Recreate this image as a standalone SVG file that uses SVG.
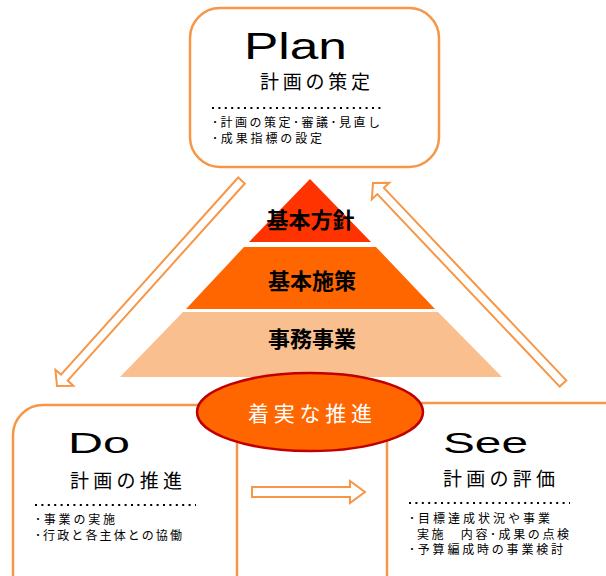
<svg xmlns="http://www.w3.org/2000/svg" width="606" height="576" viewBox="0 0 606 576">
<style>
.box{fill:#fff;stroke:#F79646;stroke-width:2.5}
.arrow{fill:#fff;stroke:#F79646;stroke-width:2;stroke-linejoin:miter}
.big{font-family:"Liberation Sans",Arial,sans-serif;fill:#000}
.jp{font-family:"Noto Sans CJK JP","Noto Sans",sans-serif;fill:#000;dominant-baseline:central}
.ttl{font-size:19px}
.sm{font-size:12px}
.pyr{font-size:22px;font-weight:bold;text-anchor:middle}
.dots{stroke:#000;stroke-width:2;stroke-dasharray:2 4.4;fill:none}
</style>
<g id="plan">
<rect class="box" x="190" y="8" width="249" height="159" rx="30"/>
<text class="big" x="244" y="59" font-size="36" textLength="103" lengthAdjust="spacingAndGlyphs">Plan</text>
<text class="jp ttl" x="260" y="80" textLength="110" lengthAdjust="spacing">計画の策定</text>
<line class="dots" x1="212" y1="108" x2="384" y2="108"/>
<text class="jp sm" x="212" y="121.5" textLength="168" lengthAdjust="spacing">･計画の策定･審議･見直し</text>
<text class="jp sm" x="212" y="137.5" textLength="110" lengthAdjust="spacing">･成果指標の設定</text>
</g>
<g id="do">
<rect class="box" x="13" y="405" width="224" height="200" rx="30"/>
<text class="big" x="68" y="453" font-size="30" textLength="62" lengthAdjust="spacingAndGlyphs">Do</text>
<text class="jp ttl" x="70" y="479" textLength="112" lengthAdjust="spacing">計画の推進</text>
<line class="dots" x1="35" y1="505" x2="196" y2="505"/>
<text class="jp sm" x="35" y="518" textLength="80" lengthAdjust="spacing">･事業の実施</text>
<text class="jp sm" x="35" y="534" textLength="147" lengthAdjust="spacing">･行政と各主体との協働</text>
</g>
<g id="see">
<rect class="box" x="387" y="403" width="250" height="200" rx="30"/>
<text class="big" x="443" y="453" font-size="30" textLength="85" lengthAdjust="spacingAndGlyphs">See</text>
<text class="jp ttl" x="443" y="477" textLength="112" lengthAdjust="spacing">計画の評価</text>
<line class="dots" x1="409" y1="503" x2="570" y2="503"/>
<text class="jp sm" x="409" y="517.5" textLength="141" lengthAdjust="spacing">･目標達成状況や事業</text>
<text class="jp sm" x="417" y="533" textLength="152" lengthAdjust="spacing">実施　内容･成果の点検</text>
<text class="jp sm" x="409" y="548.5" textLength="154" lengthAdjust="spacing">･予算編成時の事業検討</text>
</g>
<g id="pyramid-top">
<polygon points="310,179 249,242 371,242" fill="#FF3300"/>
<text class="jp pyr" x="310.5" y="218">基本方針</text>
</g>
<g id="pyramid-middle">
<polygon points="244,247 376,247 435,309 186,309" fill="#FF6600"/>
<text class="jp pyr" x="312" y="279">基本施策</text>
</g>
<g id="pyramid-bottom">
<polygon points="183,312 438,312 502,377 120,377" fill="#F9BF8F"/>
<text class="jp pyr" x="312" y="337">事務事業</text>
</g>
<g id="connectors">
<polygon class="arrow" points="244.8,183.5 67.7,380.6 73.3,385.8 57,386 55.4,369.8 61,374.6 238.2,177.5"/>
<polygon class="arrow" points="566.3,380.4 383.9,187.9 389.3,182.7 373,183 371.9,199.3 377.3,194.1 559.7,386.6"/>
<polygon class="arrow" points="252,487 350,487 350,481 365,492 350,503 350,497 252,497"/>
</g>
<g id="center">
<ellipse cx="310" cy="412" rx="113" ry="39" fill="#FF6600" stroke="#C00000" stroke-width="2.5"/>
<text class="jp" x="248" y="412" font-size="21" style="fill:#fff" textLength="124" lengthAdjust="spacing">着実な推進</text>
</g>
</svg>
